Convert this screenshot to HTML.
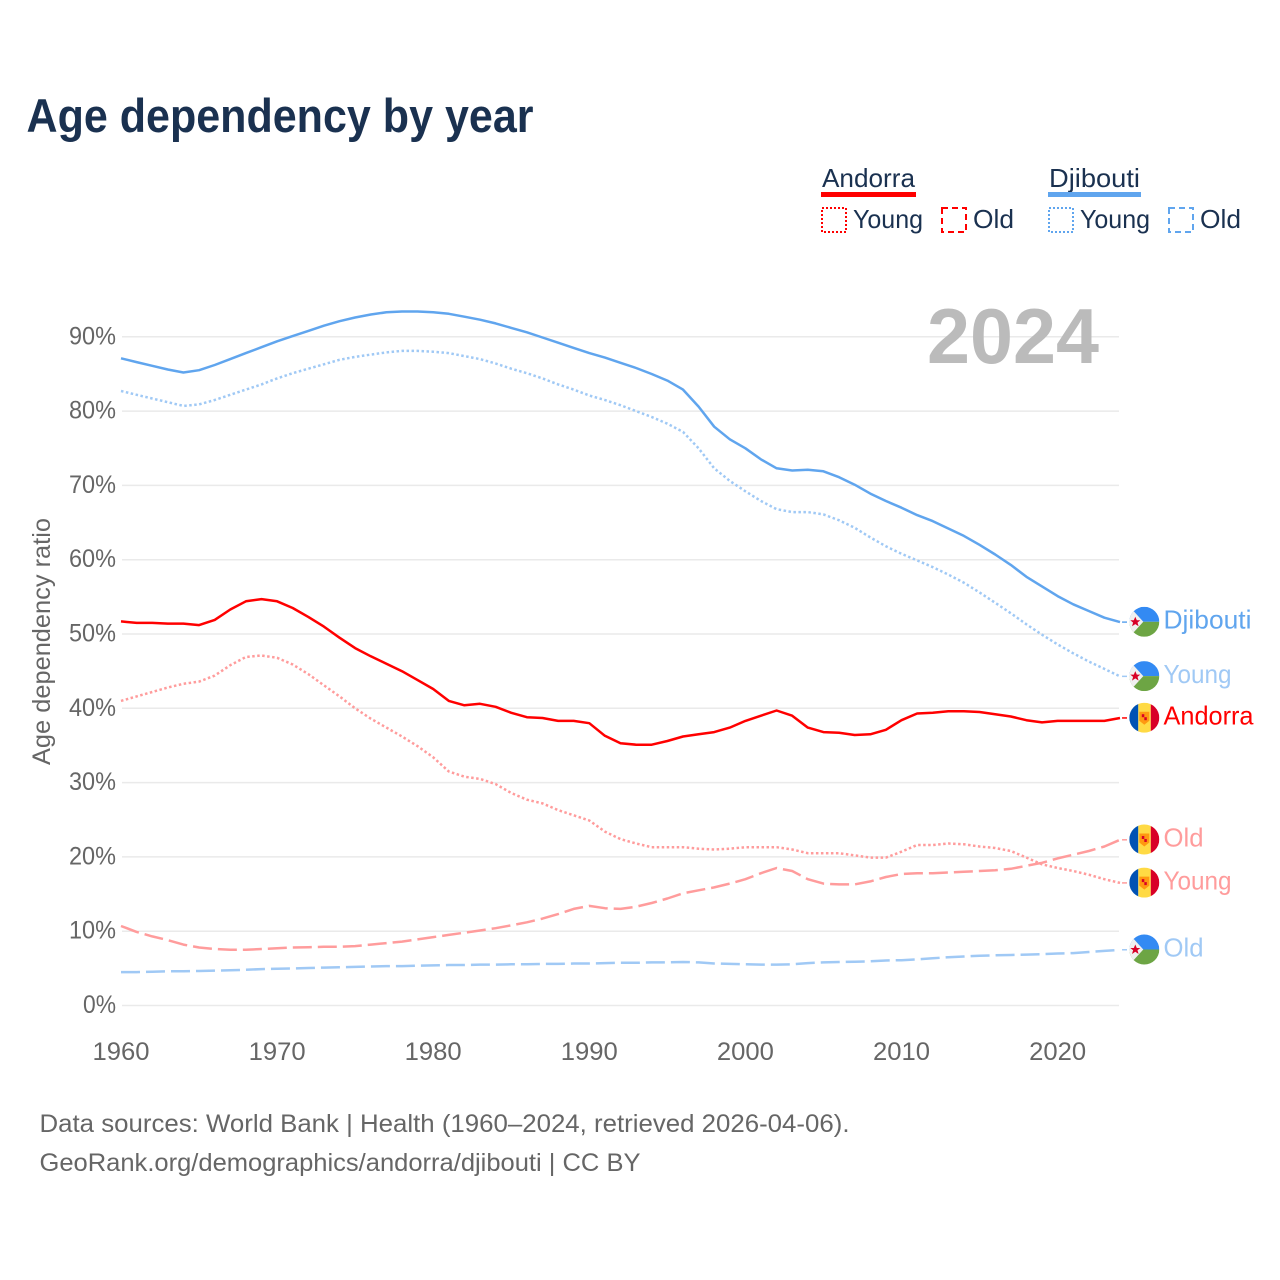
<!DOCTYPE html>
<html lang="en">
<head>
<meta charset="utf-8">
<title>Age dependency by year</title>
<style>
html,body{margin:0;padding:0;background:#fff;width:1280px;height:1280px;overflow:hidden}
svg{display:block;font-family:"Liberation Sans",sans-serif}
</style>
</head>
<body>
<svg id="chart" xmlns="http://www.w3.org/2000/svg" width="1280" height="1280" viewBox="0 0 1280 1280">
<defs>
<clipPath id="flag-clip"><circle cx="0" cy="0" r="15"/></clipPath>
<g id="flag-dj" clip-path="url(#flag-clip)">
<rect x="-15" y="-15" width="30" height="15" fill="#338af3"/>
<rect x="-15" y="0" width="30" height="15" fill="#6da544"/>
<polygon points="-15,-15 -11,-11 -1,0 -11,11 -15,15" fill="#f0f0f0"/>
<polygon points="-9,-5 -7.5,-1.5 -4,-1.5 -6.8,0.8 -5.7,4.5 -9,2.3 -12.3,4.5 -11.2,0.8 -14,-1.5 -10.5,-1.5" fill="#d80027"/>
</g>
<g id="flag-ad" clip-path="url(#flag-clip)">
<rect x="-15" y="-15" width="9" height="30" fill="#0052b4"/>
<rect x="-6" y="-15" width="12.5" height="30" fill="#ffda44"/>
<rect x="6.5" y="-15" width="8.5" height="30" fill="#d80027"/>
<polygon points="-5,-6 5,-6 5,3 0,7 -5,3" fill="#ff9811"/>
<rect x="-2.5" y="-3.5" width="2.5" height="3" fill="#d80027"/>
<rect x="0" y="-0.5" width="2.5" height="3" fill="#d80027"/>
</g>
</defs>

<text x="26.5" y="132" font-size="47" font-weight="700" fill="#1a3150" textLength="507" lengthAdjust="spacingAndGlyphs">Age dependency by year</text>

<g font-size="26" fill="#1a3150">
<text x="822" y="187" textLength="93" lengthAdjust="spacingAndGlyphs">Andorra</text>
<rect x="821" y="192" width="95" height="5" fill="#ff0000"/>
<rect x="822" y="208" width="24" height="24" fill="none" stroke="#ff0000" stroke-width="2" stroke-dasharray="2 2"/>
<text x="853" y="228" textLength="70" lengthAdjust="spacingAndGlyphs">Young</text>
<rect x="942" y="208" width="24" height="24" fill="none" stroke="#ff0000" stroke-width="2" stroke-dasharray="6 4"/>
<text x="973" y="228" textLength="41" lengthAdjust="spacingAndGlyphs">Old</text>
<text x="1049" y="187" textLength="91" lengthAdjust="spacingAndGlyphs">Djibouti</text>
<rect x="1048" y="192" width="93" height="5" fill="#60a5ee"/>
<rect x="1049" y="208" width="24" height="24" fill="none" stroke="#60a5ee" stroke-width="2" stroke-dasharray="2 2"/>
<text x="1080" y="228" textLength="70" lengthAdjust="spacingAndGlyphs">Young</text>
<rect x="1169" y="208" width="24" height="24" fill="none" stroke="#60a5ee" stroke-width="2" stroke-dasharray="6 4"/>
<text x="1200" y="228" textLength="41" lengthAdjust="spacingAndGlyphs">Old</text>
</g>

<g id="grid"></g>

<text x="1099" y="363" text-anchor="end" font-size="78" font-weight="700" fill="#bbbbbb" textLength="172" lengthAdjust="spacingAndGlyphs">2024</text>

<g id="yticks" font-size="25" fill="#666666"></g>
<g id="xticks" font-size="25" fill="#666666"></g>
<text transform="translate(50,641.5) rotate(-90)" text-anchor="middle" font-size="25" fill="#666666" textLength="247" lengthAdjust="spacingAndGlyphs">Age dependency ratio</text>

<g id="series"></g>
<g id="end-labels" font-size="26"></g>

<g font-size="25" fill="#666666">
<text x="39.5" y="1132" textLength="810" lengthAdjust="spacingAndGlyphs">Data sources: World Bank | Health (1960–2024, retrieved 2026-04-06).</text>
<text x="39.5" y="1171" textLength="601" lengthAdjust="spacingAndGlyphs">GeoRank.org/demographics/andorra/djibouti | CC BY</text>
</g>
</svg>

<script>
const startYear = 1960;
const xTickYears = [1960, 1970, 1980, 1990, 2000, 2010, 2020];
const yTickValues = [0, 10, 20, 30, 40, 50, 60, 70, 80, 90];

const djiboutiTotal = [87.1,86.6,86.1,85.6,85.2,85.5,86.2,87.0,87.8,88.6,89.4,90.1,90.8,91.5,92.1,92.6,93.0,93.3,93.4,93.4,93.3,93.1,92.7,92.3,91.8,91.2,90.6,89.9,89.2,88.5,87.8,87.2,86.5,85.8,85.0,84.1,82.9,80.6,77.9,76.2,75.0,73.5,72.3,72.0,72.1,71.9,71.1,70.1,68.9,67.9,67.0,66.0,65.2,64.2,63.2,62.0,60.7,59.3,57.7,56.4,55.1,54.0,53.1,52.2,51.6];
const djiboutiYoung = [82.7,82.2,81.7,81.2,80.7,80.9,81.5,82.2,82.9,83.6,84.4,85.1,85.7,86.3,86.9,87.3,87.6,87.9,88.1,88.1,88.0,87.8,87.4,87.0,86.4,85.7,85.1,84.4,83.6,82.9,82.1,81.5,80.8,80.0,79.2,78.3,77.2,75.0,72.3,70.6,69.2,67.9,66.8,66.4,66.4,66.1,65.3,64.3,63.0,61.8,60.8,59.9,59.0,58.0,56.9,55.6,54.2,52.8,51.3,49.9,48.6,47.4,46.3,45.3,44.3];
const djiboutiOld = [4.5,4.5,4.55,4.6,4.6,4.65,4.7,4.75,4.8,4.9,4.95,5.0,5.05,5.1,5.15,5.2,5.25,5.3,5.3,5.35,5.4,5.45,5.45,5.5,5.5,5.55,5.55,5.6,5.6,5.65,5.65,5.7,5.75,5.75,5.8,5.8,5.85,5.8,5.65,5.6,5.55,5.5,5.5,5.55,5.7,5.8,5.85,5.9,5.95,6.05,6.1,6.2,6.35,6.5,6.6,6.7,6.75,6.8,6.85,6.9,7.0,7.05,7.2,7.35,7.5];
const andorraTotal = [51.7,51.5,51.5,51.4,51.4,51.2,51.9,53.3,54.4,54.7,54.4,53.5,52.3,51.0,49.5,48.1,47.0,46.0,45.0,43.8,42.6,41.0,40.4,40.6,40.2,39.4,38.8,38.7,38.3,38.3,38.0,36.3,35.3,35.1,35.1,35.6,36.2,36.5,36.8,37.4,38.3,39.0,39.7,39.0,37.4,36.8,36.7,36.4,36.5,37.1,38.4,39.3,39.4,39.6,39.6,39.5,39.2,38.9,38.4,38.1,38.3,38.3,38.3,38.3,38.7];
const andorraYoung = [41.0,41.6,42.2,42.8,43.3,43.6,44.4,45.8,46.9,47.1,46.8,45.9,44.6,43.1,41.6,40.0,38.6,37.4,36.2,34.9,33.4,31.5,30.8,30.5,29.8,28.6,27.7,27.2,26.3,25.6,24.9,23.4,22.4,21.8,21.3,21.3,21.3,21.1,21.0,21.1,21.3,21.3,21.3,21.0,20.5,20.5,20.5,20.2,19.9,19.9,20.7,21.6,21.6,21.8,21.7,21.4,21.2,20.8,19.9,19.0,18.5,18.1,17.6,17.0,16.5];
const andorraOld = [10.7,9.9,9.3,8.8,8.2,7.8,7.6,7.5,7.5,7.6,7.7,7.8,7.85,7.9,7.9,8.0,8.2,8.4,8.6,8.9,9.2,9.5,9.8,10.1,10.4,10.8,11.2,11.7,12.3,13.0,13.4,13.1,13.0,13.3,13.8,14.4,15.1,15.5,15.9,16.4,17.0,17.8,18.5,18.1,17.0,16.4,16.3,16.3,16.7,17.3,17.7,17.8,17.8,17.9,18.0,18.1,18.2,18.4,18.8,19.2,19.8,20.3,20.8,21.4,22.3];

const NS = 'http://www.w3.org/2000/svg';
function xScale(year) { return 121 + (year - startYear) * 15.61; }
function yScale(value) { return 1005.5 - value * 7.43; }
function make(tag, attrs, parent) {
  const el = document.createElementNS(NS, tag);
  for (const k in attrs) el.setAttribute(k, attrs[k]);
  parent.appendChild(el);
  return el;
}

const gridGroup = document.getElementById('grid');
const yTickGroup = document.getElementById('yticks');
const xTickGroup = document.getElementById('xticks');
const seriesGroup = document.getElementById('series');
const labelGroup = document.getElementById('end-labels');

yTickValues.forEach(function (v) {
  const line = make('line', {x1: 122, x2: 1119, y1: yScale(v), y2: yScale(v), stroke: '#eaeaea', 'stroke-width': 1.5}, gridGroup);
  
  
  const t = make('text', {x: 116, y: yScale(v) + 7.5, 'text-anchor': 'end', textLength: v === 0 ? 33 : 47, lengthAdjust: 'spacingAndGlyphs'}, yTickGroup);
  t.textContent = v + '%';
  
  
});

xTickYears.forEach(function (y) {
  const t = make('text', {x: xScale(y), y: 1060, 'text-anchor': 'middle', textLength: 57, lengthAdjust: 'spacingAndGlyphs'}, xTickGroup);
  t.textContent = String(y);
  
  
});

function drawSeries(name, values, color, dash, width, flag, labelText, labelWidth) {
  const pts = values.map(function (v, i) { return xScale(startYear + i).toFixed(1) + ',' + yScale(v).toFixed(1); }).join(' ');
  const line = make('polyline', {points: pts, fill: 'none', stroke: color, 'stroke-width': width, 'stroke-linejoin': 'round'}, seriesGroup);
  if (dash) line.setAttribute('stroke-dasharray', dash);
  
  

  const endVal = values[values.length - 1];
  const endX = xScale(startYear + values.length - 1);
  const endY = yScale(endVal);
  const conn = make('line', {x1: endX + 2, x2: 1127, y1: endY, y2: endY, stroke: color, 'stroke-width': 1.5}, labelGroup);
  
  

  const f = make('use', {href: flag, transform: 'translate(1144.3,' + (endY - 0.3).toFixed(1) + ')'}, labelGroup);
  
  

  const t = make('text', {x: 1163.5, y: endY + 6.5, fill: color, textLength: labelWidth, lengthAdjust: 'spacingAndGlyphs'}, labelGroup);
  t.textContent = labelText;
  
  
}

drawSeries('djibouti-old', djiboutiOld, '#a0c9f5', '19 6', 2.5, '#flag-dj', 'Old', 40);
drawSeries('andorra-old', andorraOld, '#ff9c9c', '19 6', 2.5, '#flag-ad', 'Old', 40);
drawSeries('andorra-young', andorraYoung, '#ff9c9c', '2.5 2.5', 2.5, '#flag-ad', 'Young', 68);
drawSeries('djibouti-young', djiboutiYoung, '#a0c9f5', '2.5 2.5', 2.5, '#flag-dj', 'Young', 68);
drawSeries('andorra-total', andorraTotal, '#ff0000', '', 2.5, '#flag-ad', 'Andorra', 90);
drawSeries('djibouti-total', djiboutiTotal, '#60a5ee', '', 2.5, '#flag-dj', 'Djibouti', 88);
</script>
</body>
</html>
